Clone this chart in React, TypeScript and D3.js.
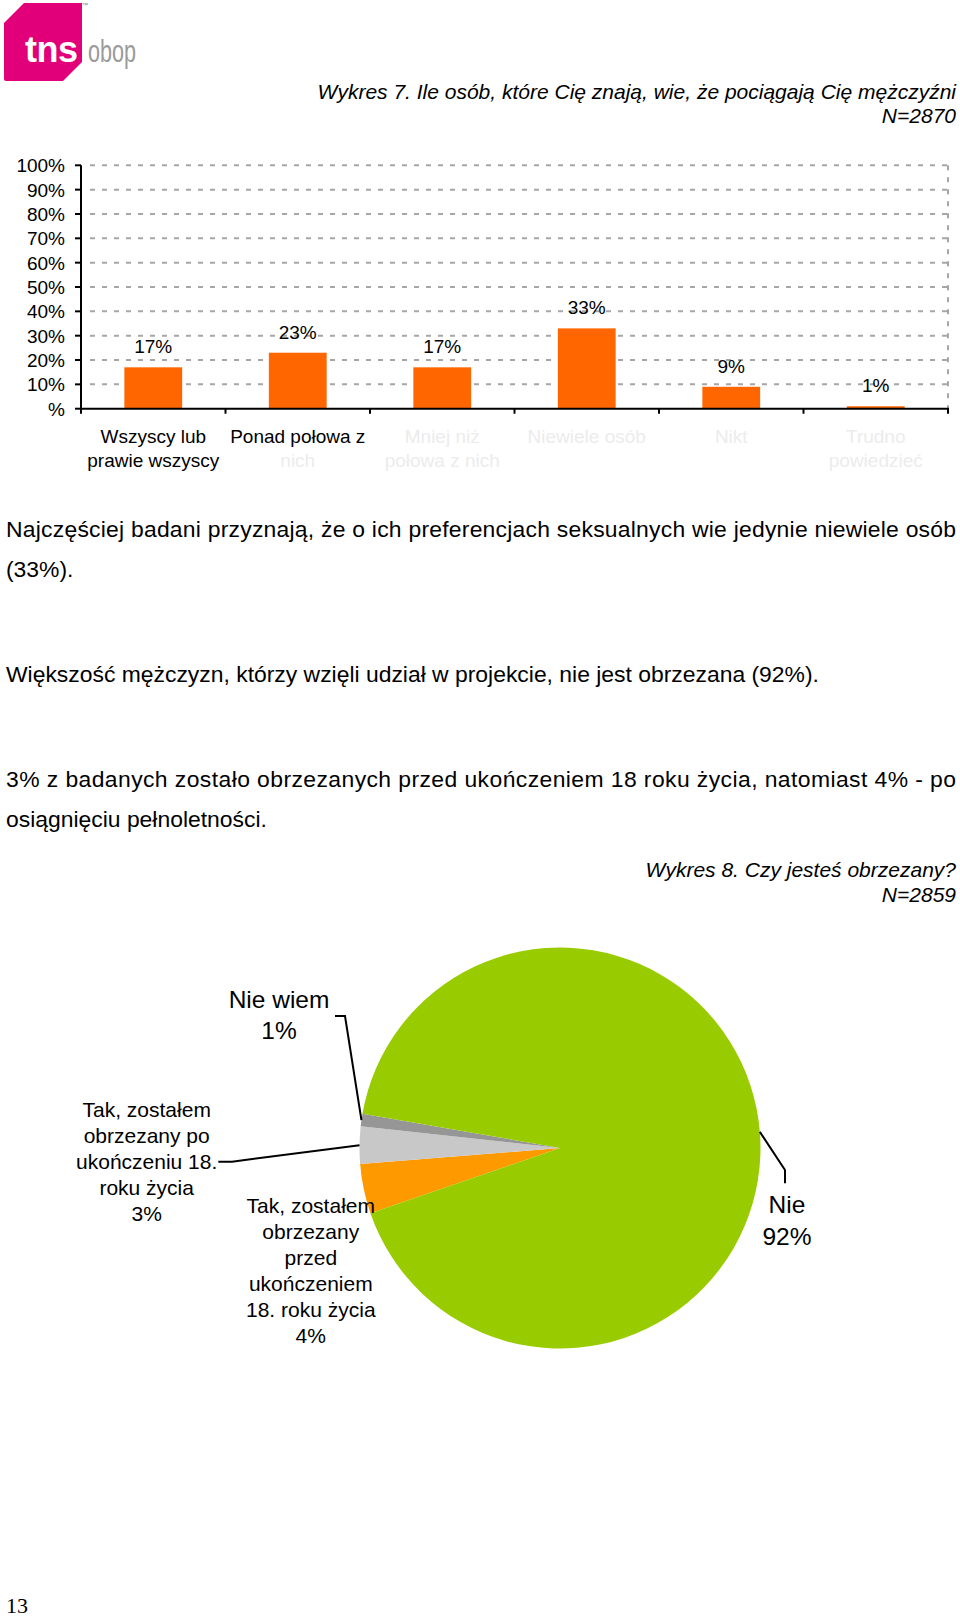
import React from "react";
import * as d3 from "d3";

// ---------- data ----------
const barCategories: string[][] = [
  ["Wszyscy lub", "prawie wszyscy"],
  ["Ponad połowa z", "nich"],
  ["Mniej niż", "połowa z nich"],
  ["Niewiele osób"],
  ["Nikt"],
  ["Trudno", "powiedzieć"],
];
// how many label lines are legible in the reference (the rest is faded)
const barLegibleLines = [2, 1, 0, 0, 0, 0];
const barValues = [17, 23, 17, 33, 9, 1];
const yTickValues = [0, 10, 20, 30, 40, 50, 60, 70, 80, 90, 100];
const yTickLabels = ["%", "10%", "20%", "30%", "40%", "50%", "60%", "70%", "80%", "90%", "100%"];

const pieCategories = [
  "Tak, zostałem obrzezany przed ukończeniem 18. roku życia",
  "Tak, zostałem obrzezany po ukończeniu 18. roku życia",
  "Nie wiem",
  "Nie",
];
const pieValues = [4, 3, 1, 92];
const pieLabelLines: string[][] = [
  ["Tak, zostałem", "obrzezany", "przed", "ukończeniem", "18. roku życia"],
  ["Tak, zostałem", "obrzezany po", "ukończeniu 18.", "roku życia"],
  ["Nie wiem"],
  ["Nie"],
];
const pieColors = ["#FF9900", "#C8C8C8", "#969696", "#99CC00"];

const FONT = "'Liberation Sans', Arial, Helvetica, sans-serif";

export default function App() {
  // ---------- bar chart ----------
  const plotL = 81, plotR = 948, plotT = 165.3, plotB = 408.7;
  const x = d3
    .scaleBand<number>()
    .domain(barValues.map((_, i) => i))
    .range([plotL, plotR])
    .paddingInner(0.6)
    .paddingOuter(0.3);
  const y = d3.scaleLinear().domain([0, 100]).range([plotB, plotT]);
  const step = x.step();

  // ---------- pie ----------
  const pcx = 560, pcy = 1148, pr = 200.5;
  const startA = (251 * Math.PI) / 180;
  const pie = d3
    .pie<number>()
    .sort(null)
    .startAngle(startA)
    .endAngle(startA + 2 * Math.PI);
  const arcs = pie(pieValues);
  const arcGen = d3.arc<d3.PieArcDatum<number>>().innerRadius(0).outerRadius(pr);
  const edge = (a: d3.PieArcDatum<number>) => {
    const m = (a.startAngle + a.endAngle) / 2;
    return [pcx + pr * Math.sin(m), pcy - pr * Math.cos(m)];
  };

  // label layout (relative to the pie centre)
  const labelLayout = [
    { dx: -249.2, dy: 64.7, lh: 26, fs: 21 },
    { dx: -413.3, dy: -31.3, lh: 26, fs: 21 },
    { dx: -281, dy: -140.3, lh: 31.5, fs: 24.5 },
    { dx: 227, dy: 65.3, lh: 31.7, fs: 24.5 },
  ];
  const leaderBefore: (number[][] | null)[] = [
    null,
    [[-341.7, 13.7], [-328, 13.7]],
    [[-225, -132], [-215, -132]],
    null,
  ];
  const leaderAfterNie = [[225, 22], [225, 35.3]];

  const paraStyle = { fontFamily: FONT, fontSize: 22.9, fill: "#000" };

  return (
    <svg
      width={960}
      height={1617}
      style={{ position: "absolute", left: 0, top: 0, background: "#fff" }}
      xmlns="http://www.w3.org/2000/svg"
    >
      <rect x={0} y={0} width={960} height={1617} fill="#fff" />

      {/* logo */}
      <g>
        <path d="M4,23 L24,3 L82,3 L82,62 L63,81 L6,81 Q4,81 4,79 Z" fill="#E2007A" />
        <text x={25} y={62} fontFamily={FONT} fontWeight="bold" fontSize={36} fill="#fff" letterSpacing={-0.5}>
          tns
        </text>
        <text x={88} y={62} fontFamily={FONT} fontSize={31} fill="#9a9a9a" textLength={48} lengthAdjust="spacingAndGlyphs">
          obop
        </text>
        <text x={82} y={7} fontFamily={FONT} fontSize={6} fill="#777">™</text>
      </g>

      {/* chart 7 title */}
      <text x={956} y={99} textAnchor="end" fontFamily={FONT} fontStyle="italic" fontSize={21}>
        Wykres 7. Ile osób, które Cię znają, wie, że pociągają Cię mężczyźni
      </text>
      <text x={956} y={123} textAnchor="end" fontFamily={FONT} fontStyle="italic" fontSize={21}>
        N=2870
      </text>

      {/* gridlines */}
      {yTickValues.filter((v) => v > 0).map((v) => (
        <line key={"g" + v} x1={plotL + 9} x2={plotR} y1={y(v)} y2={y(v)} stroke="#a6a6a6" strokeWidth={2} strokeDasharray="5 7" />
      ))}
      <line x1={plotR} x2={plotR} y1={plotT} y2={plotB} stroke="#a6a6a6" strokeWidth={2} strokeDasharray="5 7" />

      {/* bars */}
      {barValues.map((v, i) => (
        <rect key={"b" + i} x={x(i)} y={y(v)} width={x.bandwidth()} height={plotB - y(v)} fill="#FF6600" />
      ))}
      {barValues.map((v, i) => (
        <text key={"bl" + i} x={(x(i) as number) + x.bandwidth() / 2} y={y(v) - 14} textAnchor="middle" fontFamily={FONT} fontSize={19}>
          {v}%
        </text>
      ))}

      {/* axes */}
      <line x1={plotL} x2={plotL} y1={plotT} y2={plotB} stroke="#000" strokeWidth={2} />
      {yTickValues.map((v, i) => (
        <g key={"yt" + v}>
          <line x1={plotL - 6} x2={plotL} y1={y(v)} y2={y(v)} stroke="#000" strokeWidth={2} />
          <text x={65} y={y(v) + 7} textAnchor="end" fontFamily={FONT} fontSize={19}>
            {yTickLabels[i]}
          </text>
        </g>
      ))}
      <line x1={plotL - 1} x2={plotR + 1} y1={plotB} y2={plotB} stroke="#000" strokeWidth={2} />
      {d3.range(barValues.length + 1).map((i) => (
        <line key={"xt" + i} x1={plotL + i * step} x2={plotL + i * step} y1={plotB} y2={plotB + 5} stroke="#000" strokeWidth={2} />
      ))}
      {barCategories.map((lines, i) => (
        <g key={"xl" + i}>
          {lines.map((ln, j) => (
            <text
              key={j}
              x={(x(i) as number) + x.bandwidth() / 2}
              y={443.3 + j * 23.4}
              textAnchor="middle"
              fontFamily={FONT}
              fontSize={19}
              fill={j < barLegibleLines[i] ? "#000" : "#ececec"}
            >
              {ln}
            </text>
          ))}
        </g>
      ))}

      {/* paragraphs */}
      <text x={6} y={537} {...paraStyle} textLength={950} lengthAdjust="spacing">
        Najczęściej badani przyznają, że o ich preferencjach seksualnych wie jedynie niewiele osób
      </text>
      <text x={6} y={577} {...paraStyle}>(33%).</text>
      <text x={6} y={682} {...paraStyle}>
        Większość mężczyzn, którzy wzięli udział w projekcie, nie jest obrzezana (92%).
      </text>
      <text x={6} y={786.5} {...paraStyle} textLength={950} lengthAdjust="spacing">
        3% z badanych zostało obrzezanych przed ukończeniem 18 roku życia, natomiast 4% - po
      </text>
      <text x={6} y={827} {...paraStyle}>osiągnięciu pełnoletności.</text>

      {/* chart 8 title */}
      <text x={956} y={876.5} textAnchor="end" fontFamily={FONT} fontStyle="italic" fontSize={21}>
        Wykres 8. Czy jesteś obrzezany?
      </text>
      <text x={956} y={901.5} textAnchor="end" fontFamily={FONT} fontStyle="italic" fontSize={21}>
        N=2859
      </text>

      {/* pie */}
      <g transform={`translate(${pcx},${pcy})`}>
        {arcs.map((a, i) => (
          <path key={"p" + i} d={arcGen(a) || ""} fill={pieColors[i]} />
        ))}
      </g>

      {/* leader lines */}
      {arcs.map((a, i) => {
        const pts = leaderBefore[i];
        if (!pts) return null;
        const [ex, ey] = edge(a);
        const path = d3.line()([...pts.map((p) => [pcx + p[0], pcy + p[1]] as [number, number]), [ex, ey]]);
        return <path key={"ld" + i} d={path || ""} fill="none" stroke="#000" strokeWidth={2} />;
      })}
      {(() => {
        const [ex, ey] = edge(arcs[3]);
        const path = d3.line()([[ex, ey], ...leaderAfterNie.map((p) => [pcx + p[0], pcy + p[1]] as [number, number])]);
        return <path d={path || ""} fill="none" stroke="#000" strokeWidth={2} />;
      })()}

      {/* pie labels */}
      {pieCategories.map((cat, i) => {
        const L = labelLayout[i];
        const lines = [...pieLabelLines[i], `${pieValues[i]}%`];
        return (
          <g key={"pl" + i} aria-label={cat}>
            {lines.map((ln, j) => (
              <text key={j} x={pcx + L.dx} y={pcy + L.dy + j * L.lh} textAnchor="middle" fontFamily={FONT} fontSize={L.fs}>
                {ln}
              </text>
            ))}
          </g>
        );
      })}

      {/* page number */}
      <text x={6} y={1613} fontFamily="'Liberation Serif', 'Times New Roman', serif" fontSize={22}>
        13
      </text>
    </svg>
  );
}
